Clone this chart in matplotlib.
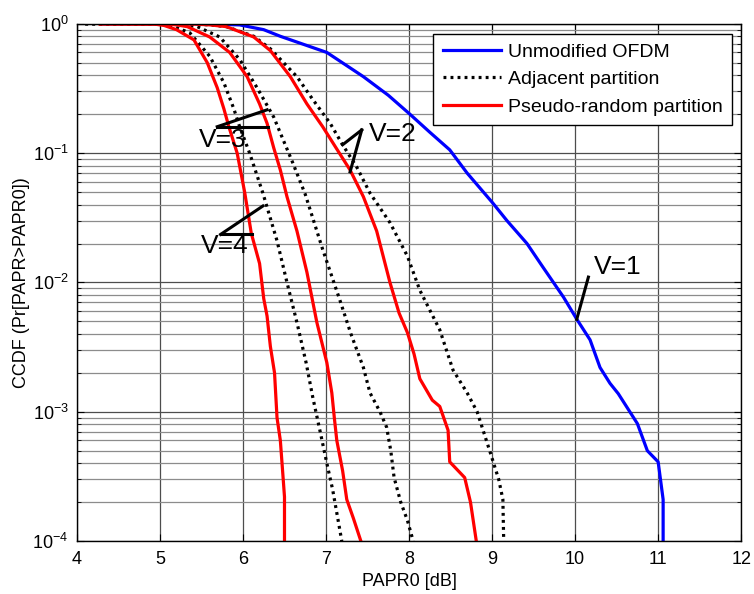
import matplotlib
matplotlib.use("Agg")
import matplotlib.pyplot as plt
from matplotlib.ticker import LogLocator, NullFormatter, MultipleLocator

plt.rcParams['font.family'] = ['Liberation Sans', 'DejaVu Sans']
plt.rcParams['mathtext.fontset'] = 'custom'
plt.rcParams['mathtext.rm'] = 'Liberation Sans'
plt.rcParams['mathtext.it'] = 'Liberation Sans'

# CCDF curves, PAPR0 in dB
papr_v1 = [4.3, 5.5, 5.96, 6.25, 6.45, 7.01, 7.45, 7.75, 8.01, 8.25, 8.49, 8.70, 9.01, 9.18,
           9.42, 9.61, 9.86, 10.02, 10.18, 10.3, 10.42, 10.52, 10.75, 10.87, 11.0, 11.06, 11.06]
ccdf_v1 = [1, 1, 0.98, 0.9, 0.8, 0.6, 0.39, 0.28, 0.2, 0.145, 0.106, 0.07, 0.041, 0.030,
           0.020, 0.0132, 0.0077, 0.0052, 0.0036, 0.0022, 0.00166, 0.00138, 0.00081, 0.0005,
           0.00041, 0.00021, 0.0001]

# adjacent partition
papr_adj_v2 = [4.1, 5.4, 5.6, 5.8, 6.13, 6.33, 6.65, 6.84, 7.05, 7.2, 7.37, 7.53, 7.77, 7.98,
               8.13, 8.37, 8.53, 8.7, 8.82, 8.98, 9.08, 9.13, 9.14]
ccdf_adj_v2 = [1, 0.995, 0.98, 0.95, 0.8, 0.64, 0.39, 0.26, 0.17, 0.116, 0.078, 0.049, 0.029,
               0.016, 0.0087, 0.0043, 0.0021, 0.0014, 0.001, 0.00048, 0.0003, 0.00021, 0.0001]
papr_adj_v3 = [4.1, 5.2, 5.45, 5.72, 5.96, 6.17, 6.37, 6.6, 6.75, 6.96, 7.17, 7.3, 7.45, 7.53,
               7.65, 7.73, 7.78, 7.82, 7.9, 7.98, 8.05]
ccdf_adj_v3 = [1, 0.995, 0.95, 0.79, 0.53, 0.32, 0.19, 0.084, 0.048, 0.018, 0.0072, 0.004,
               0.0022, 0.0014, 0.001, 0.00076, 0.0005, 0.00031, 0.0002, 0.000145, 0.0001]
papr_adj_v4 = [4.1, 5.0, 5.15, 5.36, 5.6, 5.77, 5.89, 5.96, 6.08, 6.24, 6.41, 6.53, 6.65, 6.76,
               6.84, 6.93, 7.01, 7.08, 7.15, 7.19]
ccdf_adj_v4 = [1, 0.995, 0.96, 0.85, 0.56, 0.35, 0.22, 0.16, 0.10, 0.049, 0.021, 0.010, 0.0049,
               0.0024, 0.0013, 0.0007, 0.0004, 0.00025, 0.00014, 0.0001]

# pseudo-random partition
papr_pr_v2 = [4.28, 5.4, 5.6, 5.8, 6.13, 6.33, 6.57, 6.77, 6.96, 7.12, 7.29, 7.45, 7.61, 7.77,
              7.88, 7.98, 8.06, 8.13, 8.28, 8.37, 8.47, 8.49, 8.67, 8.74, 8.81]
ccdf_pr_v2 = [1, 0.995, 0.98, 0.95, 0.79, 0.62, 0.39, 0.24, 0.16, 0.11, 0.074, 0.046, 0.025,
              0.01, 0.0058, 0.0041, 0.0028, 0.0018, 0.00123, 0.0011, 0.00072, 0.00041, 0.00031,
              0.0002, 0.0001]
papr_pr_v3 = [4.28, 5.08, 5.2, 5.33, 5.6, 5.84, 6.05, 6.2, 6.29, 6.37, 6.45, 6.53, 6.65, 6.77,
              6.89, 7.01, 7.07, 7.1, 7.13, 7.2, 7.25, 7.33, 7.42]
ccdf_pr_v3 = [1, 0.995, 0.98, 0.95, 0.79, 0.60, 0.39, 0.24, 0.17, 0.11, 0.074, 0.046, 0.025,
              0.012, 0.0049, 0.0024, 0.0014, 0.0009, 0.0006, 0.00035, 0.00021, 0.00015, 0.0001]
papr_pr_v4 = [4.28, 4.93, 5.05, 5.2, 5.41, 5.57, 5.69, 5.77, 5.83, 5.93, 6.02, 6.1, 6.2, 6.25,
              6.29, 6.33, 6.38, 6.41, 6.45, 6.48, 6.5, 6.5]
ccdf_pr_v4 = [1, 0.995, 0.97, 0.90, 0.75, 0.50, 0.32, 0.22, 0.16, 0.10, 0.05, 0.024, 0.014,
              0.0075, 0.0055, 0.0032, 0.0020, 0.0009, 0.0006, 0.00033, 0.00022, 0.0001]

# V labels: text position, then pointer lines (vertex, ends)
v_labels = ["V=1", "V=2", "V=3", "V=4"]
v_text_pos = [(10.51, 0.0131), (7.80, 0.141), (5.76, 0.126), (5.78, 0.0191)]
v_pointers = [
    [((10.16, 0.011), (10.02, 0.0052))],
    [((7.43, 0.151), (7.20, 0.116)), ((7.43, 0.151), (7.29, 0.0716))],
    [((5.69, 0.16), (6.29, 0.216)), ((5.69, 0.16), (6.30, 0.16))],
    [((5.73, 0.0235), (6.24, 0.039)), ((5.73, 0.0235), (6.11, 0.0235))],
]

fig = plt.figure(figsize=(7.54, 5.94), dpi=100)
ax = fig.add_axes([0.102, 0.089, 0.881, 0.871])

dot = (0, (0.9, 1.3))
ax.semilogy(papr_v1, ccdf_v1, color='#0000ff', lw=2.3, label='Unmodified OFDM')
ax.semilogy(papr_adj_v2, ccdf_adj_v2, color='black', lw=2.3, ls=dot, label='Adjacent partition')
ax.semilogy(papr_adj_v3, ccdf_adj_v3, color='black', lw=2.3, ls=dot)
ax.semilogy(papr_adj_v4, ccdf_adj_v4, color='black', lw=2.3, ls=dot)
ax.semilogy(papr_pr_v2, ccdf_pr_v2, color='#ff0000', lw=2.3, label='Pseudo-random partition')
ax.semilogy(papr_pr_v3, ccdf_pr_v3, color='#ff0000', lw=2.3)
ax.semilogy(papr_pr_v4, ccdf_pr_v4, color='#ff0000', lw=2.3)

for lab, pos, segs in zip(v_labels, v_text_pos, v_pointers):
    for (p0, p1) in segs:
        ax.plot([p0[0], p1[0]], [p0[1], p1[1]], color='black', lw=2.2)
    ax.text(pos[0], pos[1], lab, fontsize=19, ha='center', va='center')

ax.set_xlim(4, 12)
ax.set_ylim(1e-4, 1)
ax.xaxis.set_major_locator(MultipleLocator(1))
ax.yaxis.set_major_locator(LogLocator(base=10, numticks=10))
ax.yaxis.set_minor_locator(LogLocator(base=10, subs=range(2, 10), numticks=10))
ax.yaxis.set_minor_formatter(NullFormatter())

ax.grid(True, which='major', color='0.3', lw=0.9)
ax.grid(True, which='minor', axis='y', color='0.55', lw=0.9)
ax.set_axisbelow(True)

ax.tick_params(which='both', direction='in', top=True, right=True, labelsize=13)
ax.tick_params(axis='x', pad=7)
ax.tick_params(axis='y', pad=6)
ax.tick_params(which='major', length=5)
ax.tick_params(which='minor', length=3)
for s in ax.spines.values():
    s.set_linewidth(1.0)

ax.set_xlabel('PAPR0 [dB]', fontsize=13, labelpad=4)
ax.set_ylabel('CCDF (Pr[PAPR>PAPR0])', fontsize=13, labelpad=2)

leg = ax.legend(loc='upper right', bbox_to_anchor=(0.9865, 0.981), borderaxespad=0,
                fontsize=14, fancybox=False, framealpha=1, edgecolor='black',
                handlelength=3.0, handletextpad=0.35, labelspacing=0.5, borderpad=0.5)
leg.get_frame().set_linewidth(1.0)

fig.savefig('out.png', dpi=100)
